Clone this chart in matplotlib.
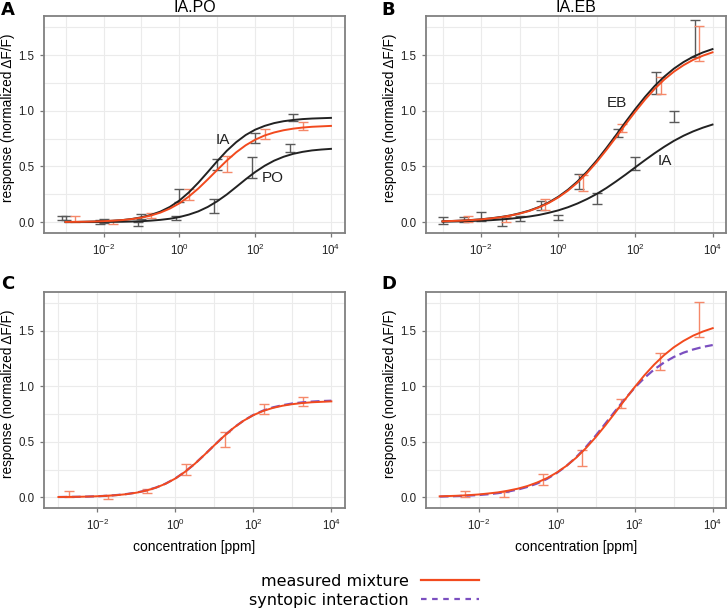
import numpy as np
import matplotlib
matplotlib.use("Agg")
import matplotlib.pyplot as plt
from matplotlib.lines import Line2D

plt.rcParams['font.family'] = ['Liberation Sans', 'DejaVu Sans']
plt.rcParams['mathtext.default'] = 'regular'

# fitted dose-response curves, every quarter decade (1e-3 .. 1e4)
curve_log_conc = np.arange(-3, 4.001, 0.25)
a_ia_fit = [0.002, 0.002, 0.004, 0.006, 0.008, 0.013, 0.019, 0.029, 0.044, 0.065, 0.095, 0.137, 0.194, 0.267, 0.354,
            0.450, 0.548, 0.640, 0.718, 0.782, 0.830, 0.864, 0.889, 0.906, 0.917, 0.925, 0.930, 0.933, 0.936]
a_po_fit = [0.000, 0.001, 0.001, 0.001, 0.002, 0.003, 0.004, 0.006, 0.009, 0.014, 0.021, 0.031, 0.046, 0.068, 0.097,
            0.137, 0.188, 0.248, 0.316, 0.385, 0.450, 0.506, 0.552, 0.587, 0.613, 0.631, 0.644, 0.652, 0.658]
a_mix_fit = [0.002, 0.003, 0.004, 0.006, 0.009, 0.013, 0.019, 0.028, 0.041, 0.060, 0.086, 0.122, 0.169, 0.230, 0.302,
             0.384, 0.469, 0.552, 0.627, 0.690, 0.740, 0.778, 0.805, 0.825, 0.839, 0.849, 0.856, 0.860, 0.864]
b_ia_fit = [0.005, 0.006, 0.008, 0.011, 0.014, 0.018, 0.024, 0.031, 0.040, 0.051, 0.065, 0.084, 0.106, 0.134, 0.168,
            0.208, 0.254, 0.307, 0.366, 0.428, 0.493, 0.557, 0.619, 0.677, 0.730, 0.776, 0.815, 0.848, 0.876]
b_eb_fit = [0.008, 0.011, 0.015, 0.020, 0.026, 0.035, 0.046, 0.060, 0.080, 0.104, 0.136, 0.177, 0.228, 0.291, 0.366,
            0.455, 0.555, 0.666, 0.782, 0.901, 1.016, 1.124, 1.222, 1.306, 1.378, 1.437, 1.485, 1.523, 1.553]
b_mix_fit = [0.008, 0.011, 0.014, 0.019, 0.025, 0.034, 0.044, 0.059, 0.077, 0.101, 0.133, 0.172, 0.222, 0.283, 0.356,
             0.443, 0.541, 0.649, 0.763, 0.880, 0.993, 1.100, 1.196, 1.280, 1.351, 1.409, 1.457, 1.494, 1.524]
c_syn_fit = [0.002, 0.003, 0.004, 0.006, 0.009, 0.013, 0.020, 0.029, 0.042, 0.061, 0.087, 0.123, 0.170, 0.230, 0.302,
             0.384, 0.469, 0.553, 0.628, 0.691, 0.742, 0.781, 0.810, 0.830, 0.845, 0.855, 0.862, 0.867, 0.870]
d_syn_fit = [0.006, 0.008, 0.011, 0.015, 0.020, 0.027, 0.037, 0.051, 0.069, 0.093, 0.124, 0.165, 0.218, 0.282, 0.361,
             0.453, 0.555, 0.665, 0.777, 0.886, 0.987, 1.076, 1.152, 1.214, 1.264, 1.303, 1.332, 1.355, 1.372]

# measured points (mean +- error), one per dilution step
dec = np.array([1e-3, 1e-2, 1e-1, 1, 10, 100, 1000])
ia_a_mean = [0.036, 0.010, 0.050, 0.240, 0.520, 0.755, 0.937]
ia_a_err = [0.020, 0.017, 0.024, 0.055, 0.050, 0.045, 0.033]
po_a_mean = [0.040, 0.005, -0.014, 0.040, 0.145, 0.490, 0.665]
po_a_err = [0.018, 0.017, 0.020, 0.020, 0.064, 0.098, 0.035]
mix_a_mean = [0.033, 0.001, 0.057, 0.248, 0.522, 0.791, 0.862]
mix_a_err = [0.027, 0.020, 0.021, 0.048, 0.068, 0.045, 0.038]
ia_b_mean = [0.018, 0.052, 0.035, 0.040, 0.210, 0.527, 0.945]
ia_b_err = [0.033, 0.038, 0.021, 0.021, 0.050, 0.057, 0.050]
eb_b_mean = [0.025, 0.006, 0.152, 0.365, 0.800, 1.250, 1.645]
eb_b_err = [0.020, 0.039, 0.042, 0.065, 0.040, 0.099, 0.165]
mix_b_mean = [0.030, 0.022, 0.158, 0.352, 0.845, 1.225, 1.600]
mix_b_err = [0.026, 0.022, 0.048, 0.072, 0.038, 0.075, 0.157]

conc_ia = dec
conc_po = dec * 0.82
conc_mix_a = dec * 1.82
conc_eb = dec * 3.5
conc_mix_b = dec * 4.5
conc_curve = 10 ** curve_log_conc

BLACK = '#222222'
GREY = '#5a5a5a'
ORANGE = '#f24a1e'
ORANGE_ERR = '#f5896a'
PURPLE = '#7b4fc0'

W, H = 727, 610
fig = plt.figure(figsize=(W / 100, H / 100), dpi=100)


def box(x0, y0, x1, y1):
    return [x0 / W, 1 - y1 / H, (x1 - x0) / W, (y1 - y0) / H]


def style(ax, xl):
    ax.set_xscale('log')
    ax.set_xlim(10 ** xl[0], 10 ** xl[1])
    ax.set_ylim(-0.097, 1.85)
    ax.set_xticks([1e-2, 1, 1e2, 1e4])
    ax.set_xticklabels(['$10^{-2}$', '$10^{0}$', '$10^{2}$', '$10^{4}$'])
    ax.set_xticks(10.0 ** np.arange(-3, 5), minor=True)
    ax.set_xticklabels([], minor=True)
    ax.set_yticks([0, 0.5, 1.0, 1.5])
    ax.set_yticklabels(['0.0', '0.5', '1.0', '1.5'])
    ax.set_yticks([0.25, 0.75, 1.25, 1.75], minor=True)
    ax.tick_params(which='major', length=3, width=0.9, color='#777777',
                   labelsize=8.3, labelcolor='#222222', pad=4)
    ax.tick_params(which='minor', length=0)
    ax.grid(True, which='both', color='#ebebeb', lw=0.8)
    ax.set_axisbelow(True)
    for s in ax.spines.values():
        s.set_color('#808080')
        s.set_linewidth(1.3)
    ax.set_ylabel('response (normalized ΔF/F)', fontsize=9.8)
    ax.yaxis.set_label_coords(-0.097, 0.53)


def bars(ax, x, m, e, col):
    ax.errorbar(x, m, yerr=e, fmt='none', ecolor=col, elinewidth=1.0,
                capsize=3.5, capthick=1.0, zorder=3)


# A: IA, PO and their mixture
axA = fig.add_axes(box(44, 16, 345, 233))
style(axA, (-3.57, 4.37))
bars(axA, conc_ia, ia_a_mean, ia_a_err, GREY)
bars(axA, conc_po, po_a_mean, po_a_err, GREY)
bars(axA, conc_mix_a, mix_a_mean, mix_a_err, ORANGE_ERR)
axA.plot(conc_curve, a_ia_fit, color=BLACK, lw=1.4, zorder=4)
axA.plot(conc_curve, a_po_fit, color=BLACK, lw=1.4, zorder=4)
axA.plot(conc_curve, a_mix_fit, color=ORANGE, lw=1.4, zorder=5)
axA.text(10 ** 1.15, 0.74, 'IA', fontsize=11, ha='center', va='center', color='#222222')
axA.text(10 ** 2.47, 0.395, 'PO', fontsize=11, ha='center', va='center', color='#222222')
axA.set_title('IA.PO', fontsize=11.5, pad=3)

# B: IA, EB and their mixture
axB = fig.add_axes(box(426, 16, 726, 233))
style(axB, (-3.43, 4.35))
bars(axB, conc_ia, ia_b_mean, ia_b_err, GREY)
bars(axB, conc_eb, eb_b_mean, eb_b_err, GREY)
bars(axB, conc_mix_b, mix_b_mean, mix_b_err, ORANGE_ERR)
axB.plot(conc_curve, b_ia_fit, color=BLACK, lw=1.4, zorder=4)
axB.plot(conc_curve, b_eb_fit, color=BLACK, lw=1.4, zorder=4)
axB.plot(conc_curve, b_mix_fit, color=ORANGE, lw=1.4, zorder=5)
axB.text(10 ** 1.51, 1.07, 'EB', fontsize=11, ha='center', va='center', color='#222222')
axB.text(10 ** 2.76, 0.553, 'IA', fontsize=11, ha='center', va='center', color='#222222')
axB.set_title('IA.EB', fontsize=11.5, pad=3)

# C, D: mixture vs syntopic interaction model
axC = fig.add_axes(box(44, 292, 345, 508))
style(axC, (-3.37, 4.35))
bars(axC, conc_mix_a, mix_a_mean, mix_a_err, ORANGE_ERR)
axC.plot(conc_curve, c_syn_fit, color=PURPLE, lw=1.6, ls=(0, (4, 2)), zorder=4)
axC.plot(conc_curve, a_mix_fit, color=ORANGE, lw=1.4, zorder=5)
axC.set_xlabel('concentration [ppm]', fontsize=10, labelpad=5)

axD = fig.add_axes(box(426, 292, 726, 508))
style(axD, (-3.35, 4.34))
bars(axD, conc_mix_b, mix_b_mean, mix_b_err, ORANGE_ERR)
axD.plot(conc_curve, d_syn_fit, color=PURPLE, lw=1.6, ls=(0, (4, 2)), zorder=4)
axD.plot(conc_curve, b_mix_fit, color=ORANGE, lw=1.4, zorder=5)
axD.set_xlabel('concentration [ppm]', fontsize=10, labelpad=5)

for lab, x, y in [('A', 1, 1), ('B', 381, 1), ('C', 1, 275), ('D', 381, 275)]:
    fig.text(x / W, 1 - y / H, lab, fontsize=13, fontweight='bold',
             family='DejaVu Sans', ha='left', va='top')

handles = [Line2D([], [], color=ORANGE, lw=1.6),
           Line2D([], [], color=PURPLE, lw=1.6, ls=(0, (2.5, 2.5)))]
fig.legend(handles, ['measured mixture', 'syntopic interaction'], markerfirst=False,
           frameon=False, loc='center', bbox_to_anchor=(364 / W, 1 - 591 / H),
           prop={'family': 'DejaVu Sans', 'size': 11.5}, handlelength=3.6,
           labelspacing=0.25, handletextpad=0.8)

fig.savefig('out.png', dpi=100)
